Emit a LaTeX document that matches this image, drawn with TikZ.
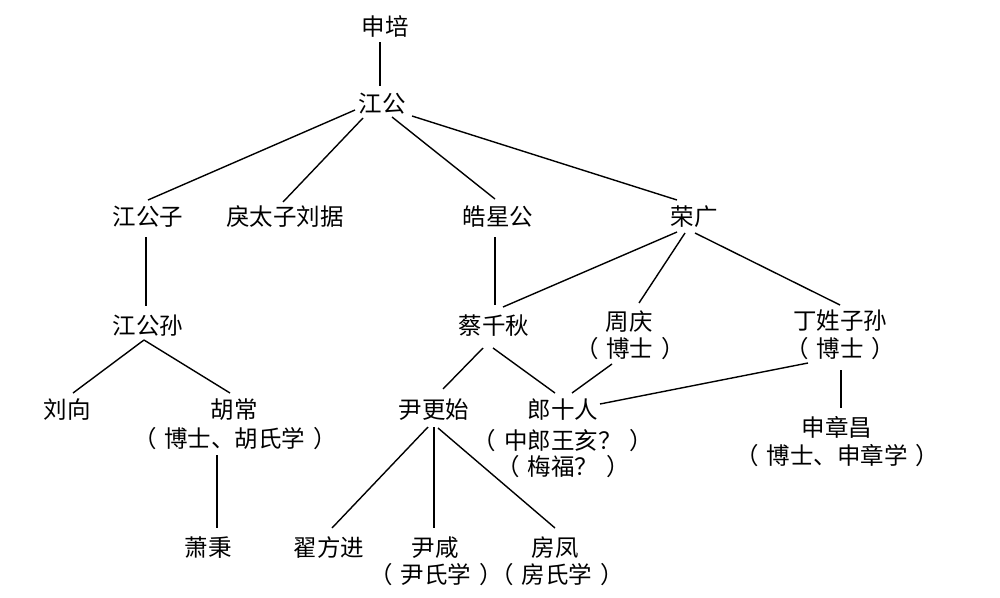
\documentclass[tikz,border=0pt]{standalone}
\usepackage{fontspec}
\newfontfamily\cjk{Noto Sans CJK SC}
\usetikzlibrary{calc}
\newcommand\pnote[1]{（\kern8pt #1\kern8pt ）}
\begin{document}
\begin{tikzpicture}[x=1pt,y=-1pt,
  person/.style={font=\cjk\fontsize{23.5}{28}\selectfont, inner sep=0pt, text height=20pt, text depth=4pt, anchor=center, text=black},
  link/.style={line width=1.4pt, draw=black}]
\useasboundingbox[fill=white] (0,0) rectangle (1000,597);
% nodes
\node[person] (sp) at (385,27) {申培};
\node[person] (jg) at (382,104) {江公};
\node[person] (jgz) at (148,217) {江公子};
\node[person] (lt) at (285,217) {戾太子刘据};
\node[person] (hx) at (498,217) {皓星公};
\node[person] (rg) at (694,217) {荣广};
\node[person] (jgs) at (148,326) {江公孙};
\node[person] (cq) at (494,326) {蔡千秋};
\node[person] (zq) at (629,322) {周庆};
\node[person] (zq2) at (630,349) {\pnote{博士}};
\node[person] (dx) at (840,321) {丁姓子孙};
\node[person] (dx2) at (840,349) {\pnote{博士}};
\node[person] (lx) at (67,410) {刘向};
\node[person] (hc) at (234,410) {胡常};
\node[person] (hc2) at (235,439) {\pnote{博士、胡氏学}};
\node[person] (ygs) at (434,410) {尹更始};
\node[person] (lang) at (563,410) {郎十人};
\node[person] (lang2) at (563,441) {\pnote{中郎王亥？}};
\node[person] (lang3) at (563,467) {\pnote{梅福？}};
\node[person] (szc) at (837,428) {申章昌};
\node[person] (szc2) at (837,456) {\pnote{博士、申章学}};
\node[person] (xb) at (208,548) {萧秉};
\node[person] (zfj) at (329,548) {翟方进};
\node[person] (yx) at (435,548) {尹咸};
\node[person] (yx2) at (436,575) {\pnote{尹氏学}};
\node[person] (ff) at (555,548) {房凤};
\node[person] (ff2) at (557,575) {\pnote{房氏学}};
% connectors
\draw[link] ($(sp)+(-5,15)$) -- ($(jg)+(-2,-18)$);
\draw[link] ($(jg)+(-27,6)$) -- ($(jgz)+(0,-17)$);
\draw[link] ($(jg)+(-19,14)$) -- ($(lt)+(-2,-15)$);
\draw[link] ($(jg)+(10,13)$) -- ($(hx)+(-3,-18)$);
\draw[link] ($(jg)+(30,12)$) -- ($(rg)+(-17,-17)$);
\draw[link] ($(jgz)+(-2,20)$) -- ($(jgs)+(-2,-20)$);
\draw[link] ($(hx)+(-3,20)$) -- ($(cq)+(1,-21)$);
\draw[link] ($(rg)+(-17,15)$) -- ($(cq)+(9,-19)$);
\draw[link] ($(rg)+(-9,16)$) -- ($(zq)+(10,-19)$);
\draw[link] ($(rg)+(1,16)$) -- ($(dx)+(0,-16)$);
\draw[link] ($(jgs)+(-4,14)$) -- ($(lx)+(6,-17)$);
\draw[link] ($(jgs)+(-4,14)$) -- ($(hc)+(-4,-17)$);
\draw[link] ($(hc2)+(-18,16)$) -- ($(xb)+(9,-20)$);
\draw[link] ($(cq)+(-11,22)$) -- ($(ygs)+(9,-21)$);
\draw[link] ($(cq)+(-1,22)$) -- ($(lang)+(-8,-17)$);
\draw[link] ($(zq2)+(-18,15)$) -- ($(lang)+(9,-17)$);
\draw[link] ($(dx2)+(-32,14)$) -- ($(lang)+(37,-6)$);
\draw[link] ($(dx2)+(1,21)$) -- ($(szc)+(4,-20)$);
\draw[link] ($(ygs)+(-6,17)$) -- ($(zfj)+(3,-20)$);
\draw[link] ($(ygs)+(0,17)$) -- ($(yx)+(-1,-20)$);
\draw[link] ($(ygs)+(4,18)$) -- ($(ff)+(0,-20)$);
\end{tikzpicture}
\end{document}
